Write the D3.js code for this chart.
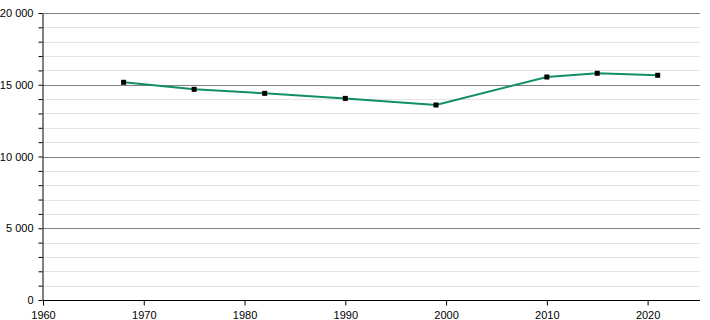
<!DOCTYPE html>
<meta charset="utf-8">
<style>
body { margin: 0; background: #fff; }
svg { display: block; }
text { font-family: "Liberation Sans", Arial, sans-serif; font-size: 11px; fill: #000; }
</style>
<body>
<script src="https://d3js.org/d3.v7.min.js"></script>
<script>
// population values
var years = [1968, 1975, 1982, 1990, 1999, 2010, 2015, 2021];
var population = [15170, 14680, 14400, 14050, 13590, 15540, 15800, 15660];
var yearTicks = [1960, 1970, 1980, 1990, 2000, 2010, 2020];
var valueTicks = [0, 5000, 10000, 15000, 20000];

var width = 710, height = 320;
var margin = {top: 13, right: 10, bottom: 20, left: 43};

var svg = d3.select("body").append("svg")
    .attr("width", width)
    .attr("height", height);

var x = d3.scaleLinear()
    .domain([1960, 2025])
    .range([margin.left, width - margin.right - 2]);
var y = d3.scaleLinear()
    .domain([0, 20000])
    .range([height - margin.bottom, margin.top]);

var fmt = function(d) { return d3.format(",")(d).replace(/,/g, " "); };

// minor gridlines every 1000
svg.append("g")
  .selectAll("line")
  .data(d3.range(1000, 20000, 1000).filter(function(d) { return d % 5000; }))
  .enter().append("line")
    .attr("x1", margin.left).attr("x2", width - margin.right)
    .attr("y1", function(d) { return Math.round(y(d)) + 0.5; })
    .attr("y2", function(d) { return Math.round(y(d)) + 0.5; })
    .attr("stroke", "#e4e4e4");

// major gridlines every 5000
svg.append("g")
  .selectAll("line")
  .data(valueTicks.slice(1))
  .enter().append("line")
    .attr("x1", margin.left).attr("x2", width - margin.right)
    .attr("y1", function(d) { return Math.round(y(d)) + 0.5; })
    .attr("y2", function(d) { return Math.round(y(d)) + 0.5; })
    .attr("stroke", "#808080");

// y axis: small ticks every 1000, labels every 5000
var yAxis = svg.append("g")
    .attr("transform", "translate(" + (margin.left - 0.5) + ",0)")
    .call(d3.axisLeft(y).tickValues(d3.range(0, 20001, 1000)).tickSize(4).tickSizeOuter(0)
      .tickFormat(function(d) { return d % 5000 ? "" : fmt(d); }));
yAxis.select(".domain").attr("stroke", "#000");
yAxis.selectAll("text").attr("x", -9).attr("font-family", null).attr("font-size", null);

// x axis
var xAxis = svg.append("g")
    .attr("transform", "translate(0," + (Math.round(y(0)) + 0.5) + ")")
    .call(d3.axisBottom(x).tickValues(yearTicks).tickFormat(d3.format("d")).tickSize(5).tickSizeOuter(0));
xAxis.select(".domain").attr("d", "M" + margin.left + ",0H" + (width - margin.right));
xAxis.selectAll("text").attr("y", 11).attr("font-family", null).attr("font-size", null);

// population line
var line = d3.line()
    .x(function(d, i) { return x(years[i]); })
    .y(function(d) { return y(d); });

svg.append("path")
    .datum(population)
    .attr("d", line)
    .attr("fill", "none")
    .attr("stroke", "#118f68")
    .attr("stroke-width", 2);

svg.append("g")
  .selectAll("rect")
  .data(population)
  .enter().append("rect")
    .attr("x", function(d, i) { return x(years[i]) - 2.5; })
    .attr("y", function(d) { return y(d) - 2.5; })
    .attr("width", 5)
    .attr("height", 5)
    .attr("fill", "#000");
</script>
</body>
